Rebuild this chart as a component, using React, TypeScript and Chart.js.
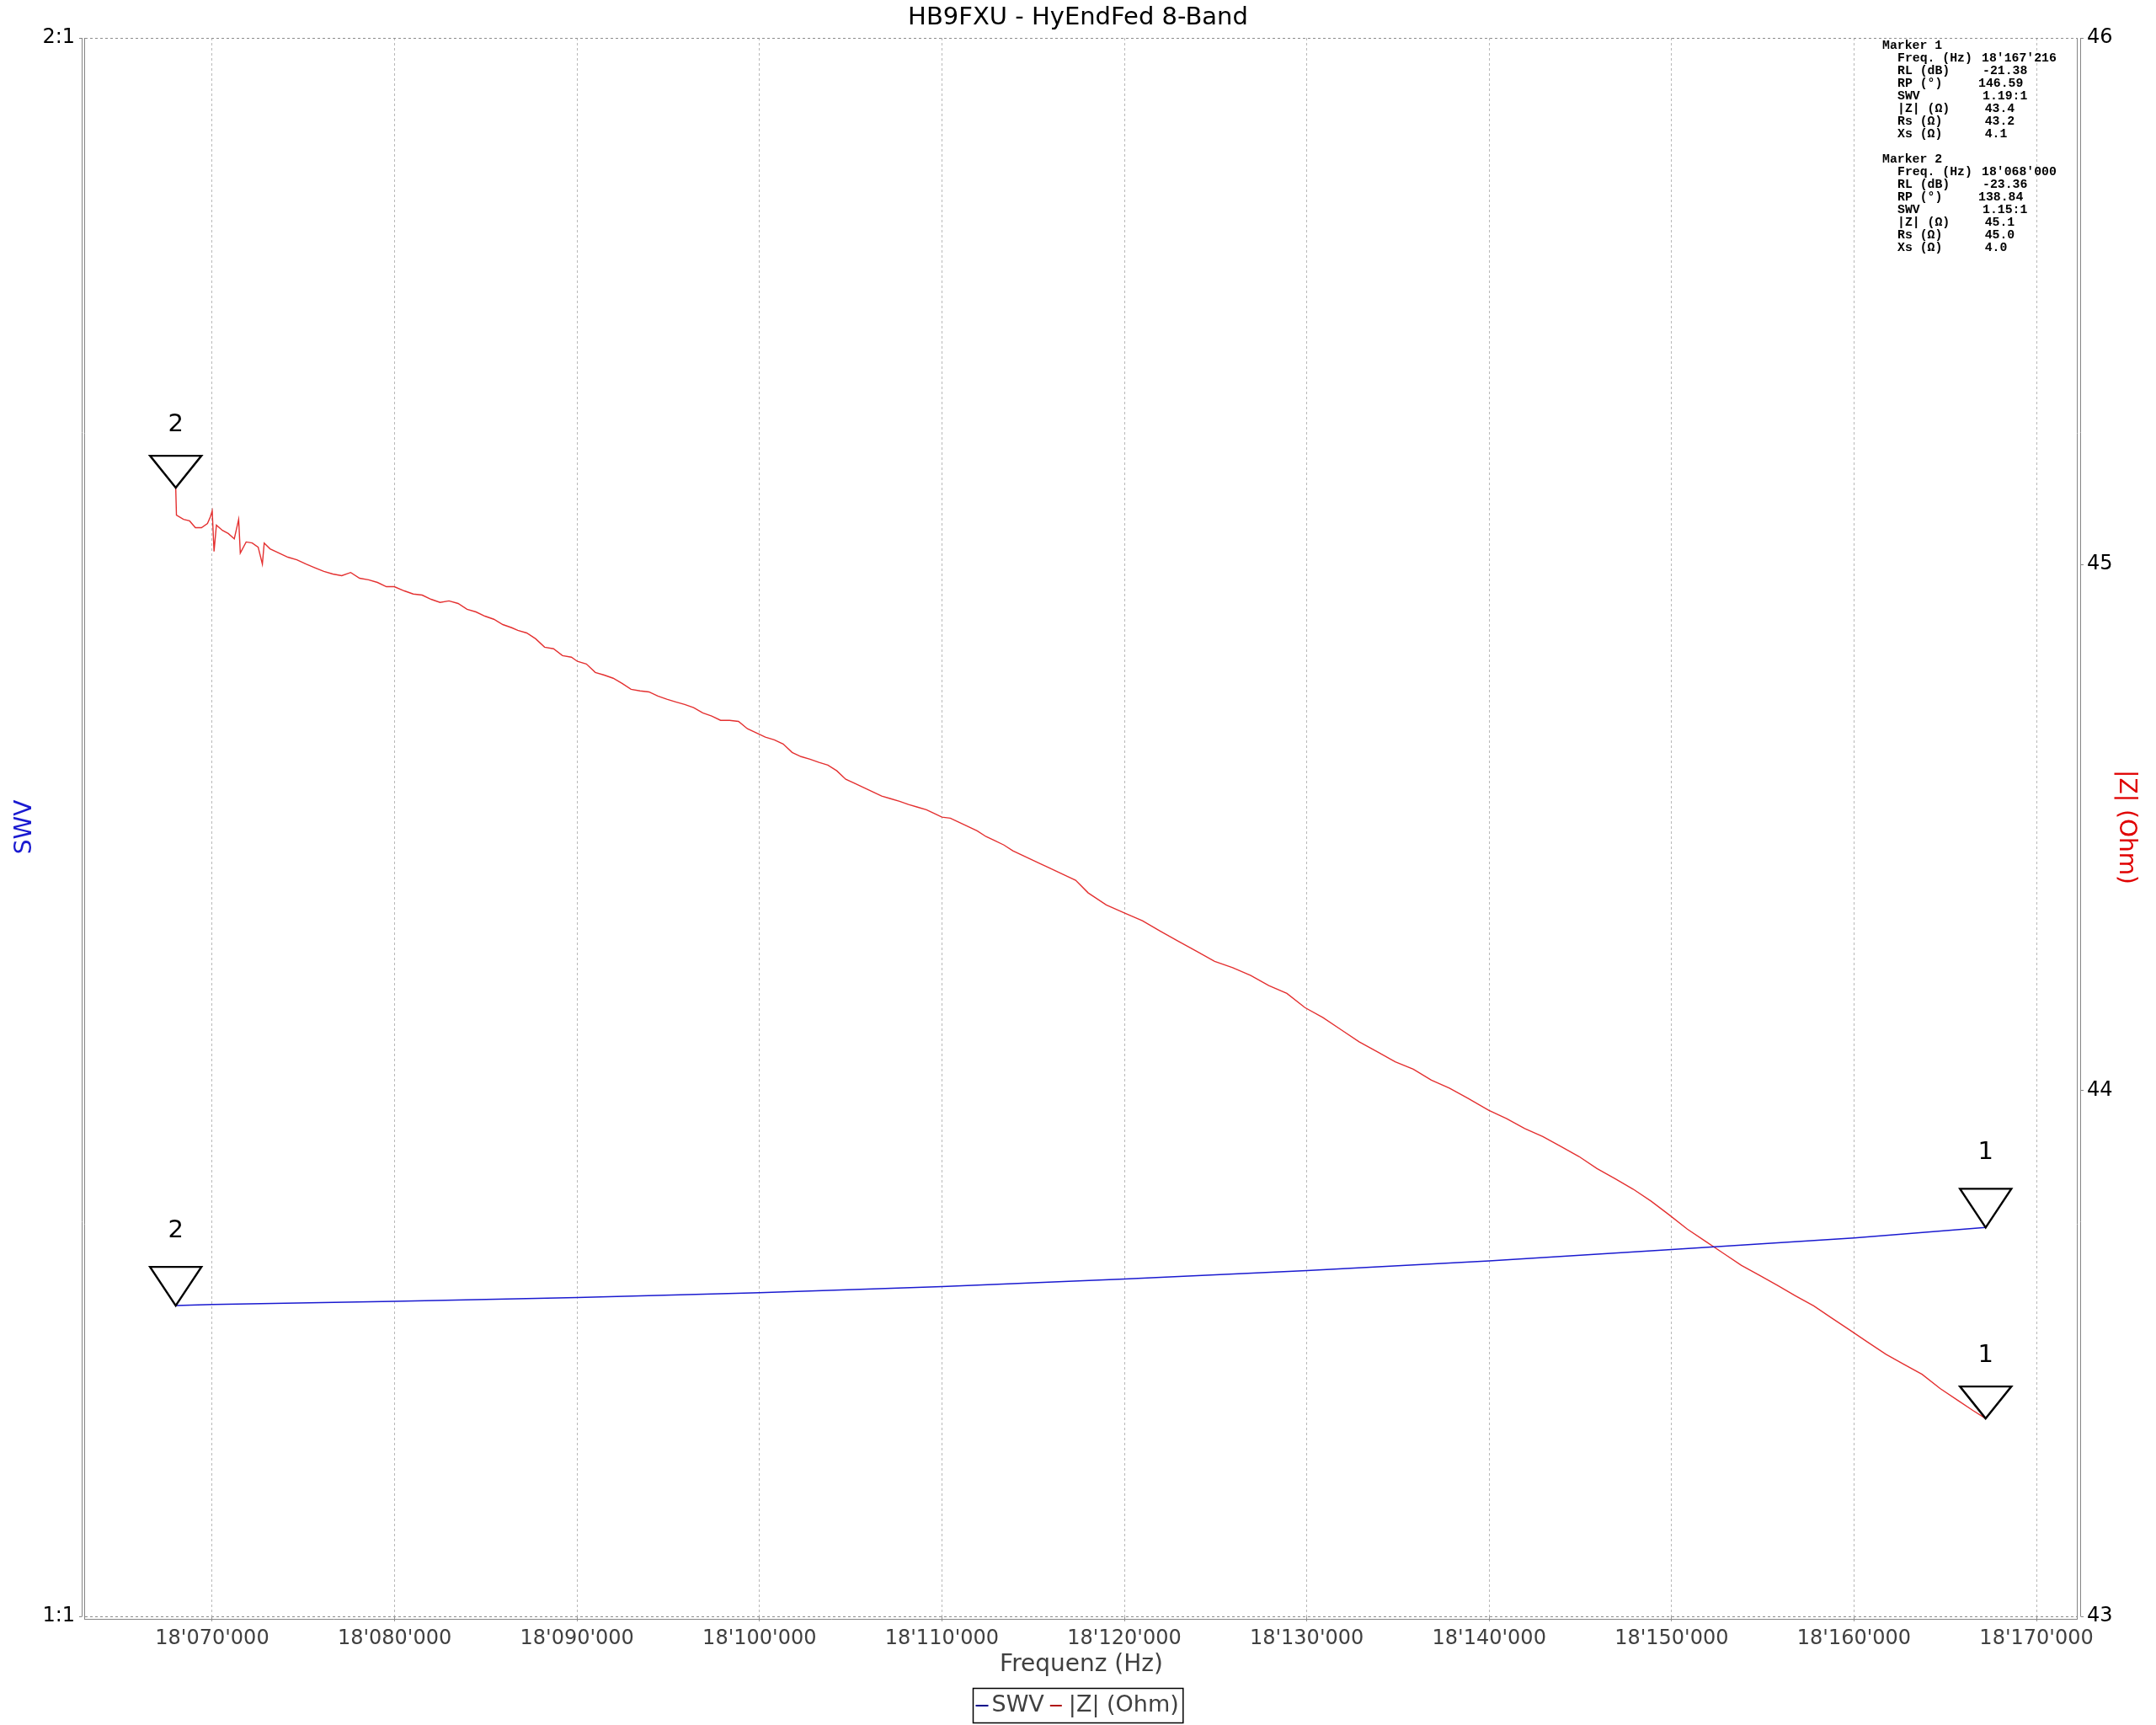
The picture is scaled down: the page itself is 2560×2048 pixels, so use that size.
import { useEffect, useRef } from "react";
import { Chart, registerables } from "chart.js";

Chart.register(...registerables);

const TITLE = "HB9FXU - HyEndFed 8-Band";
const X_TITLE = "Frequenz (Hz)";
const SWV_TITLE = "SWV";
const Z_TITLE = "|Z| (Ohm)";

const xTicks = [18070000, 18080000, 18090000, 18100000, 18110000, 18120000, 18130000, 18140000, 18150000, 18160000, 18170000];
const swvTicks = [1, 2];
const swvTickLabels = ["1:1", "2:1"];
const zTicks = [43, 44, 45, 46];

const swvFreq = [18068000, 18070000, 18080000, 18090000, 18100000, 18110000, 18120000, 18130000, 18140000, 18150000, 18160000, 18167216];
const swvVal = [1.1462, 1.1468, 1.1484, 1.1503, 1.1527, 1.1558, 1.1597, 1.164, 1.1689, 1.1748, 1.1808, 1.1862];

const zFreq = [
  18068000, 18068040, 18068430, 18068760, 18069080, 18069410, 18069740, 18069900, 18070000, 18070100,
  18070230, 18070560, 18070880, 18071210, 18071450, 18071540, 18071860, 18072190, 18072520, 18072750,
  18072850, 18073170, 18073660, 18074150, 18074640, 18075140, 18075630, 18076120, 18076610, 18077100,
  18077590, 18078080, 18078570, 18079060, 18079550, 18079980, 18080530, 18081020, 18081510, 18082000,
  18082490, 18082980, 18083480, 18083970, 18084460, 18084950, 18085440, 18085930, 18086420, 18086750,
  18087240, 18087730, 18088220, 18088710, 18089200, 18089690, 18090020, 18090510, 18091000, 18091490,
  18091980, 18092470, 18092960, 18093450, 18093940, 18094430, 18094920, 18095410, 18095900, 18096390,
  18096890, 18097380, 18097870, 18098360, 18098850, 18099340, 18099830, 18100320, 18100810, 18101300,
  18101790, 18102280, 18102770, 18103260, 18103750, 18104240, 18104730, 18105230, 18105720, 18106210,
  18106700, 18107190, 18107680, 18108170, 18108660, 18109150, 18109640, 18110000, 18110460, 18110950,
  18111440, 18111930, 18112420, 18112910, 18113400, 18113890, 18114380, 18114870, 18115360, 18115860,
  18116350, 18116840, 18117330, 18118020, 18119010, 18120000, 18120990, 18121980, 18122970, 18123960,
  18124950, 18125940, 18126930, 18127920, 18128910, 18129900, 18130890, 18131880, 18132870, 18133860,
  18134850, 18135840, 18136830, 18137820, 18138810, 18139970, 18140960, 18141950, 18142940, 18143930,
  18144920, 18145910, 18146900, 18147890, 18148880, 18149870, 18150860, 18151850, 18152840, 18153830,
  18154820, 18155810, 18156800, 18157790, 18158780, 18159770, 18160760, 18161750, 18162740, 18163730,
  18164720, 18165710, 18166530, 18167216,
];
const zVal = [
  45.145, 45.093, 45.085, 45.082, 45.069, 45.069, 45.077, 45.09, 45.101, 45.024,
  45.074, 45.064, 45.058, 45.048, 45.085, 45.021, 45.042, 45.04, 45.032, 45.0,
  45.04, 45.029, 45.021, 45.013, 45.008, 45.0, 44.993, 44.986, 44.981, 44.978,
  44.984, 44.973, 44.97, 44.965, 44.957, 44.957, 44.949, 44.943, 44.941, 44.933,
  44.927, 44.93, 44.925, 44.914, 44.909, 44.901, 44.895, 44.885, 44.879, 44.874,
  44.869, 44.858, 44.842, 44.839, 44.826, 44.823, 44.815, 44.81, 44.794, 44.789,
  44.783, 44.773, 44.762, 44.759, 44.757, 44.749, 44.743, 44.738, 44.733, 44.727,
  44.717, 44.711, 44.703, 44.703, 44.701, 44.687, 44.679, 44.671, 44.666, 44.658,
  44.642, 44.634, 44.629, 44.623, 44.618, 44.607, 44.591, 44.583, 44.575, 44.567,
  44.559, 44.554, 44.549, 44.543, 44.538, 44.533, 44.525, 44.519, 44.517, 44.509,
  44.501, 44.493, 44.482, 44.474, 44.466, 44.455, 44.447, 44.439, 44.431, 44.423,
  44.415, 44.407, 44.399, 44.375, 44.352, 44.337, 44.322, 44.302, 44.283, 44.264,
  44.245, 44.233, 44.218, 44.199, 44.184, 44.157, 44.138, 44.115, 44.092, 44.073,
  44.054, 44.04, 44.019, 44.004, 43.985, 43.962, 43.946, 43.927, 43.912, 43.893,
  43.874, 43.851, 43.832, 43.812, 43.789, 43.763, 43.736, 43.713, 43.69, 43.667,
  43.648, 43.629, 43.609, 43.59, 43.567, 43.544, 43.521, 43.498, 43.479, 43.46,
  43.433, 43.41, 43.391, 43.376,
];

const markerNames = ["Marker 1", "Marker 2"];
const markerFields = ["Freq. (Hz)", "RL (dB)", "RP (°)", "SWV", "|Z| (Ω)", "Rs (Ω)", "Xs (Ω)"];
const marker1Values = ["18'167'216", "-21.38", "146.59", "1.19:1", "43.4", "43.2", "4.1"];
const marker2Values = ["18'068'000", "-23.36", "138.84", "1.15:1", "45.1", "45.0", "4.0"];
const markerIds = ["1", "2"];
const markerFreq = [18167216, 18068000];
const markerSwv = [1.1862, 1.1462];
const markerZ = [43.376, 45.145];

const FONT = "DejaVu Sans";
const SWV_COLOR = "#1a1ad0";
const Z_COLOR = "#e43030";

function fmtHz(v: number): string {
  return String(Math.round(v)).replace(/\B(?=(\d{3})+(?!\d))/g, "'");
}

const overlayPlugin = {
  id: "overlay",
  afterDraw(chart: any) {
    const ctx = chart.ctx as CanvasRenderingContext2D;
    const ca = chart.chartArea;
    const xs = chart.scales.x;
    const ys = chart.scales.y;
    const yz = chart.scales.yZ;
    ctx.save();
    ctx.strokeStyle = "#858585";
    ctx.lineWidth = 1;
    ctx.setLineDash([]);
    const line = (x1: number, y1: number, x2: number, y2: number) => {
      ctx.beginPath();
      ctx.moveTo(x1, y1);
      ctx.lineTo(x2, y2);
      ctx.stroke();
    };
    const L = Math.round(ca.left);
    const R = Math.round(ca.right);
    const T = Math.round(ca.top);
    const B = Math.round(ca.bottom);
    line(L - 0.5, T, L - 0.5, B + 4);
    line(L - 3.5, T, L - 3.5, B);
    line(R - 0.5, T, R - 0.5, B + 4);
    line(R + 3.5, T, R + 3.5, B);
    line(L - 0.5, B + 3.5, R - 0.5, B + 3.5);
    swvTicks.forEach((v) => {
      const y = Math.round(ys.getPixelForValue(v)) + 0.5;
      line(L - 7, y, L - 3.5, y);
    });
    zTicks.forEach((v) => {
      const y = Math.round(yz.getPixelForValue(v)) + 0.5;
      line(R + 3.5, y, R + 7, y);
    });

    // markers
    ctx.strokeStyle = "#000";
    ctx.lineWidth = 2.4;
    ctx.lineJoin = "miter";
    ctx.fillStyle = "#000";
    ctx.font = `29px "${FONT}"`;
    ctx.textAlign = "center";
    ctx.textBaseline = "middle";
    const tri = (x: number, y: number, h: number, labelOff: number, id: string) => {
      ctx.beginPath();
      ctx.moveTo(x, y);
      ctx.lineTo(x - 30.5, y - h);
      ctx.lineTo(x + 30.5, y - h);
      ctx.closePath();
      ctx.stroke();
      ctx.fillText(id, x, y - labelOff);
    };
    for (let i = 0; i < markerFreq.length; i++) {
      const x = xs.getPixelForValue(markerFreq[i]);
      tri(x, ys.getPixelForValue(markerSwv[i]), 46, 89, markerIds[i]);
      tri(x, yz.getPixelForValue(markerZ[i]), 38, 75, markerIds[i]);
    }

    // marker text block
    ctx.font = `bold 14.8px "Liberation Mono"`;
    ctx.textAlign = "left";
    ctx.fillStyle = "#000";
    const valueX = [2353, 2354, 2349, 2354, 2356.7, 2356.7, 2356.7];
    const blocks = [marker1Values, marker2Values];
    let row = 0;
    blocks.forEach((vals, b) => {
      ctx.fillText(markerNames[b], 2235, 54.3 + row * 15);
      row++;
      markerFields.forEach((f, k) => {
        const y = 54.3 + row * 15;
        ctx.fillText(f, 2253, y);
        ctx.fillText(vals[k], valueX[k], y);
        row++;
      });
      row++;
    });

    // legend
    ctx.font = `27px "${FONT}"`;
    ctx.textBaseline = "middle";
    const w1 = ctx.measureText(SWV_TITLE).width;
    const w2 = ctx.measureText(Z_TITLE).width;
    const total = 3 + 15 + 4 + w1 + 7 + 14 + 8 + w2 + 5;
    const cx = (xs.left + xs.right) / 2 - 4;
    const bx = Math.round(cx - total / 2) + 0.5;
    const by = 2004.5;
    const bh = 41;
    const ly = by + bh / 2;
    ctx.lineWidth = 1.5;
    ctx.strokeStyle = "#000";
    ctx.strokeRect(bx, by, total, bh);
    let px = bx + 3;
    ctx.lineWidth = 2;
    ctx.strokeStyle = "#00008a";
    line(px, ly, px + 15, ly);
    px += 19;
    ctx.fillStyle = "#404040";
    ctx.fillText(SWV_TITLE, px, ly);
    px += w1 + 7;
    ctx.strokeStyle = "#b01010";
    line(px, ly, px + 14, ly);
    px += 22;
    ctx.fillText(Z_TITLE, px, ly);
    ctx.restore();
  },
};

export default function App() {
  const ref = useRef<HTMLCanvasElement | null>(null);
  useEffect(() => {
    if (!ref.current) return;
    Chart.defaults.font.family = FONT;
    const chart = new Chart(ref.current, {
      type: "line",
      data: {
        datasets: [
          {
            label: SWV_TITLE,
            data: swvFreq.map((f, i) => ({ x: f, y: swvVal[i] })),
            borderColor: SWV_COLOR,
            borderWidth: 1.5,
            pointRadius: 0,
            yAxisID: "y",
            tension: 0,
          },
          {
            label: Z_TITLE,
            data: zFreq.map((f, i) => ({ x: f, y: zVal[i] })),
            borderColor: Z_COLOR,
            borderWidth: 1.4,
            pointRadius: 0,
            yAxisID: "yZ",
            tension: 0,
          },
        ],
      },
      options: {
        animation: false,
        responsive: false,
        maintainAspectRatio: false,
        layout: { padding: 0 },
        plugins: {
          legend: { display: false },
          tooltip: { enabled: false },
          title: {
            display: true,
            text: TITLE,
            color: "#000",
            font: { family: FONT, size: 29, weight: "normal" },
            padding: { top: 3.6, bottom: 6.6 },
          },
        },
        scales: {
          x: {
            type: "linear",
            position: "bottom",
            min: 18063030,
            max: 18172260,
            afterBuildTicks: (s: any) => {
              s.ticks = xTicks.map((v) => ({ value: v }));
            },
            afterFit: (s: any) => {
              s.height = 129;
            },
            ticks: {
              color: "#404040",
              font: { family: FONT, size: 24 },
              padding: 6,
              maxRotation: 0,
              minRotation: 0,
              autoSkip: false,
              callback: (v: any) => fmtHz(Number(v)),
            },
            grid: {
              color: "#b8b8b8",
              lineWidth: 1,
              drawTicks: true,
              tickLength: 6,
              tickColor: "#999",
            },
            border: { display: false, dash: [3, 3] },
            title: {
              display: true,
              text: X_TITLE,
              color: "#404040",
              font: { family: FONT, size: 28 },
              padding: { top: 0, bottom: 54.2 },
            },
          },
          y: {
            type: "logarithmic",
            position: "left",
            min: 1,
            max: 2,
            afterBuildTicks: (s: any) => {
              s.ticks = swvTicks.map((v) => ({ value: v }));
            },
            afterFit: (s: any) => {
              s.width = 101;
            },
            ticks: {
              color: "#000",
              font: { family: FONT, size: 24 },
              padding: 12,
              autoSkip: false,
              callback: (v: any) => swvTickLabels[swvTicks.indexOf(Number(v))] ?? "",
            },
            grid: { color: "#8c8c8c", lineWidth: 1, drawTicks: false },
            border: { display: false, dash: [3, 3] },
            title: {
              display: true,
              text: SWV_TITLE,
              color: SWV_COLOR,
              font: { family: FONT, size: 28 },
              padding: { top: 12.7, bottom: 0 },
            },
          },
          yZ: {
            type: "linear",
            position: "right",
            min: 43,
            max: 46,
            afterBuildTicks: (s: any) => {
              s.ticks = zTicks.map((v) => ({ value: v }));
            },
            afterFit: (s: any) => {
              s.width = 93;
            },
            ticks: {
              color: "#000",
              font: { family: FONT, size: 24 },
              padding: 11,
              autoSkip: false,
            },
            grid: { display: false, drawTicks: false },
            border: { display: false },
            title: {
              display: true,
              text: Z_TITLE,
              color: "#e00000",
              font: { family: FONT, size: 28 },
              padding: { top: 19.2, bottom: 0 },
            },
          },
        },
      } as any,
      plugins: [overlayPlugin],
    });
    return () => chart.destroy();
  }, []);
  return (
    <div style={{ position: "absolute", left: 0, top: 0, width: 2560, height: 2048, background: "#fff" }}>
      <canvas ref={ref} width={2560} height={2048} />
    </div>
  );
}
